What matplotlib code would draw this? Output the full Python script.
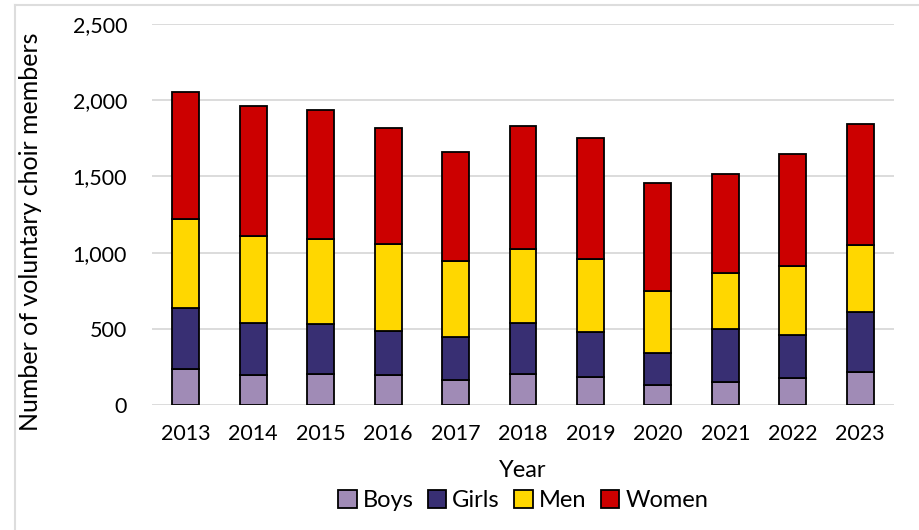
import matplotlib.pyplot as plt
import numpy as np
from matplotlib.lines import Line2D

plt.rcParams['font.family'] = ['Lato', 'DejaVu Sans']

years = ["2013", "2014", "2015", "2016", "2017", "2018", "2019", "2020", "2021", "2022", "2023"]
boys = [234, 197, 201, 195, 166, 206, 181, 129, 149, 175, 219]
girls = [403, 342, 331, 289, 283, 335, 299, 210, 352, 285, 394]
men = [585, 571, 556, 574, 499, 484, 475, 408, 366, 449, 440]
women = [832, 850, 850, 762, 710, 806, 797, 712, 646, 736, 789]

series = [("Boys", boys, "#A08BB6"),
          ("Girls", girls, "#382F73"),
          ("Men", men, "#FFD700"),
          ("Women", women, "#CC0000")]

fig = plt.figure(figsize=(9.19, 5.30), dpi=100)
ax = fig.add_axes([152/919, 125/530, 742/919, 381/530])

# light frame round the chart area (left and top edges visible)
fx, fy = 14.5/919, 1 - 4.5/530
fig.add_artist(Line2D([fx, fx], [0, fy], transform=fig.transFigure,
                      color="#DDDDDD", linewidth=1.5))
fig.add_artist(Line2D([fx, 1], [fy, fy], transform=fig.transFigure,
                      color="#DDDDDD", linewidth=1.5))

x = np.arange(len(years))
bottom = np.zeros(len(years))
for name, vals, col in series:
    ax.bar(x, vals, 0.4, bottom=bottom, color=col, edgecolor="black",
           linewidth=1.3, label=name, zorder=3)
    bottom += np.array(vals)

ax.set_xlim(-0.5, len(years) - 0.5)
ax.set_ylim(0, 2500)
ax.set_yticks(range(0, 2501, 500))
ax.set_yticklabels([f"{v:,}" for v in range(0, 2501, 500)])
ax.set_xticks(x)
ax.set_xticklabels(years)
ax.grid(axis="y", color="#D9D9D9", linewidth=1.3, zorder=0)
for s in ax.spines.values():
    s.set_visible(False)
ax.tick_params(length=0, labelsize=15.5, pad=14)
ax.tick_params(axis="y", pad=18)

ax.set_ylabel("Number of voluntary choir members", fontsize=18)
ax.yaxis.set_label_coords(-0.148, 0.455)
ax.set_xlabel("Year", fontsize=17, labelpad=11)

ax.legend(loc="upper center", bbox_to_anchor=(0.5, -0.185), ncol=4,
          frameon=False, fontsize=17, handlelength=0.8, handleheight=0.8,
          handletextpad=0.25, columnspacing=0.6, borderpad=0.1)

fig.savefig("out.png", dpi=100)
